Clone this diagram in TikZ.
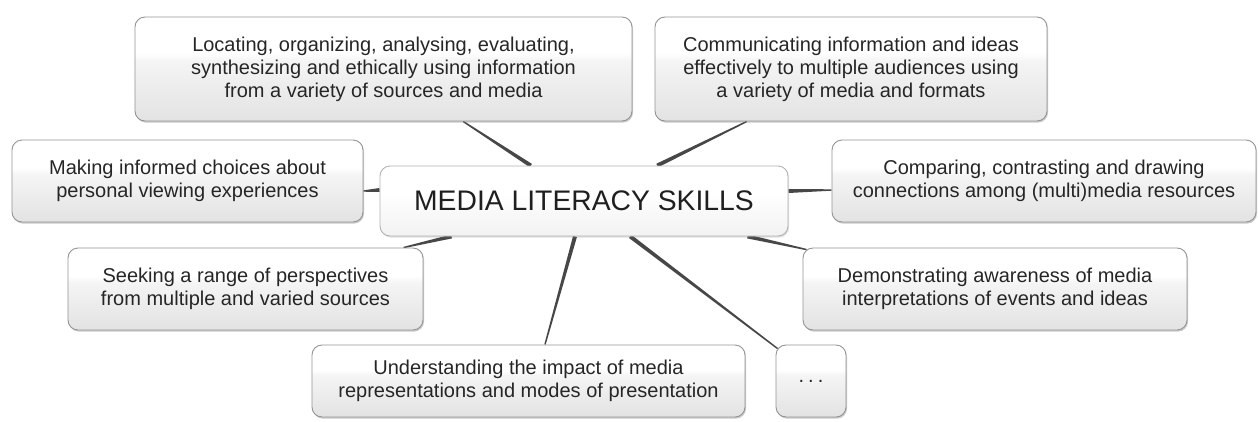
\documentclass[tikz,border=0pt]{standalone}
\usepackage{fontspec}
\setmainfont{Liberation Sans}
\usetikzlibrary{calc,shadows,backgrounds}
\pgfdeclareverticalshading{glossy}{100bp}{color(0bp)=(black!17); color(38bp)=(black!8); color(54bp)=(black!4); color(58bp)=(white); color(100bp)=(white)}
\pgfdeclareverticalshading{hubshade}{100bp}{color(0bp)=(black!9); color(45bp)=(black!2); color(55bp)=(white); color(100bp)=(white)}
\newcommand\taperline[2]{\fill[conn] ($(#1)!2bp!90:(#2)$) -- ($(#2)!0.7bp!-90:(#1)$) -- ($(#2)!0.7bp!90:(#1)$) -- ($(#1)!2bp!-90:(#2)$) -- cycle;}
\begin{document}
\begin{tikzpicture}[x=1bp,y=-1bp,
  skill/.style={draw=black!42, line width=0.9bp, rounded corners=10bp, shading=glossy,
    drop shadow={shadow xshift=1bp, shadow yshift=-1.6bp, opacity=0.35, fill=black!60},
    align=center, inner sep=0pt, text=black!85, font=\fontsize{20bp}{23bp}\selectfont},
  hub/.style={draw=black!30, line width=0.9bp, rounded corners=10bp, shading=hubshade,
    drop shadow={shadow xshift=1bp, shadow yshift=-1.6bp, opacity=0.25, fill=black!50},
    align=center, inner sep=0pt, text=black!88, font=\fontsize{28.3bp}{32bp}\selectfont},
  conn/.style={fill=black!72}]
\useasboundingbox (0,0) rectangle (1258,421);

\node[hub, minimum width=408bp, minimum height=70bp] (hub) at (584,201) {MEDIA LITERACY SKILLS};

\node[skill, minimum width=497bp, minimum height=104bp] (A) at (383.5,69)
  {Locating, organizing, analysing, evaluating,\\synthesizing and ethically using information\\from a variety of sources and media};
\node[skill, minimum width=392bp, minimum height=104bp] (B) at (851,69)
  {Communicating information and ideas\\effectively to multiple audiences using\\a variety of media and formats};
\node[skill, minimum width=351bp, minimum height=82bp] (C) at (187.5,181)
  {Making informed choices about\\personal viewing experiences};
\node[skill, minimum width=424bp, minimum height=82bp] (D) at (1044,181)
  {Comparing, contrasting and drawing\\connections among (multi)media resources};
\node[skill, minimum width=355bp, minimum height=82bp] (E) at (245.5,289)
  {Seeking a range of perspectives\\from multiple and varied sources};
\node[skill, minimum width=384bp, minimum height=82bp] (F) at (995,289)
  {Demonstrating awareness of media\\interpretations of events and ideas};
\node[skill, minimum width=433bp, minimum height=72bp] (G) at (528.5,381)
  {Understanding the impact of media\\representations and modes of presentation};
\node[skill, minimum width=70bp, minimum height=72bp] (H) at (811,381)
  {.\kern4bp.\kern4bp.};

\coordinate (ha) at ($(hub.north west)!0.370!(hub.north east)$);
\coordinate (ab) at ($(A.south west)!0.660!(A.south east)$);
\coordinate (hb) at ($(hub.north west)!0.679!(hub.north east)$);
\coordinate (bb) at ($(B.south west)!0.235!(B.south east)$);
\coordinate (hc) at ($(hub.west)+(0,-11)$);
\coordinate (cb) at ($(C.east)+(0,10)$);
\coordinate (hd) at ($(hub.east)+(0,-10)$);
\coordinate (db) at ($(D.west)+(0,9)$);
\coordinate (he) at ($(hub.south west)!0.176!(hub.south east)$);
\coordinate (eb) at ($(E.north west)!0.944!(E.north east)$);
\coordinate (hf) at ($(hub.south west)!0.900!(hub.south east)$);
\coordinate (fb) at ($(F.north west)+(4,2)$);
\coordinate (hg) at ($(hub.south west)!0.478!(hub.south east)$);
\coordinate (gb) at ($(G.north west)!0.538!(G.north east)$);
\coordinate (hh) at ($(hub.south west)!0.613!(hub.south east)$);
\coordinate (hb2) at ($(H.north west)+(2,4)$);

\begin{pgfonlayer}{background}
\taperline{ha}{ab}
\taperline{hb}{bb}
\taperline{hc}{cb}
\taperline{hd}{db}
\taperline{he}{eb}
\taperline{hf}{fb}
\taperline{hg}{gb}
\taperline{hh}{hb2}
\end{pgfonlayer}
\end{tikzpicture}
\end{document}
